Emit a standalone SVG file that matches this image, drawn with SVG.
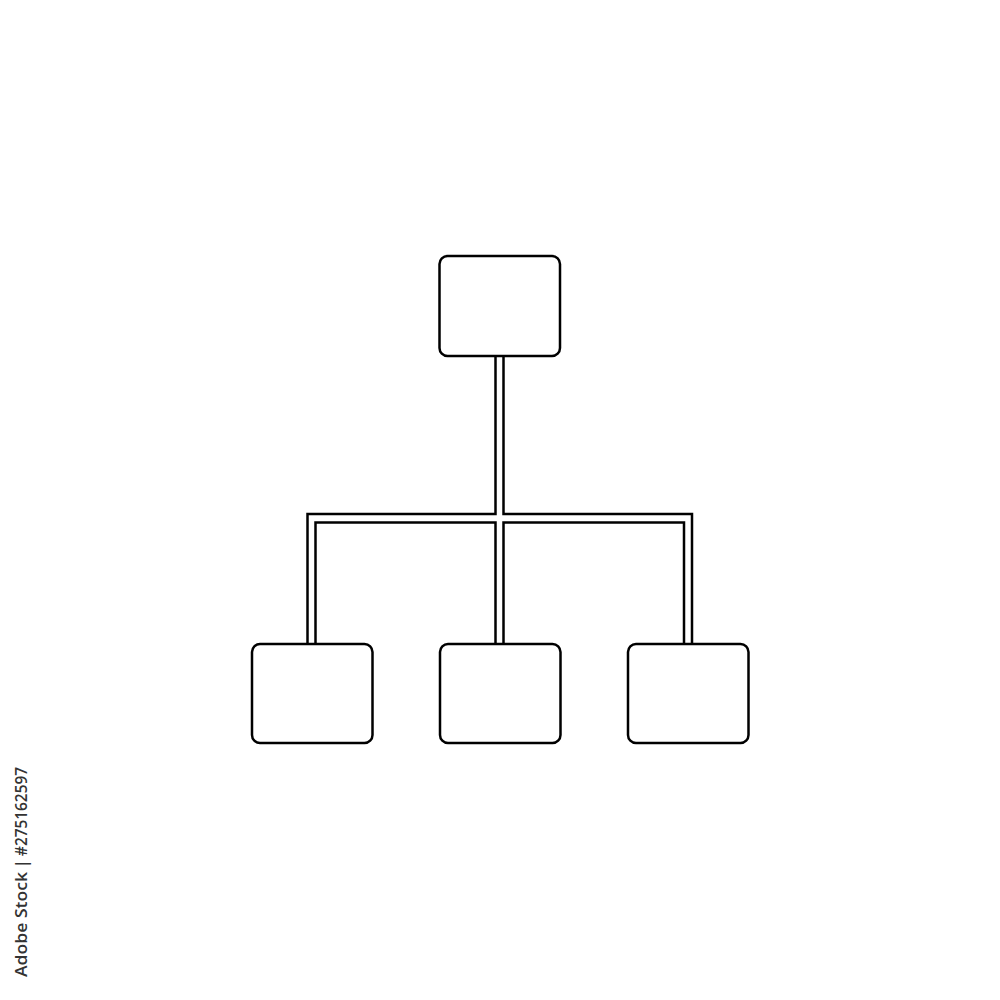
<svg xmlns="http://www.w3.org/2000/svg" width="1000" height="1000" viewBox="0 0 1000 1000">
  <style>
    .node { fill: #ffffff; stroke: #000000; stroke-width: 2.5; }
    .conn { fill: none; stroke: #000000; stroke-width: 2.5; stroke-linejoin: miter; }
    .credit { font-family: "Open Sans", "Liberation Sans", sans-serif; font-size: 15.5px; font-weight: 600; fill: #333333; }
  </style>
  <rect width="1000" height="1000" fill="#ffffff"/>
  <g id="connectors">
    <path class="conn" d="M495.5,356 V514 H307.5 V644"/>
    <path class="conn" d="M315.5,644 V522.5 H495.5 V644"/>
    <path class="conn" d="M503.5,644 V522.5 H684 V644"/>
    <path class="conn" d="M692,644 V514 H503.5 V356"/>
  </g>
  <g id="node-root">
    <rect class="node" x="439.5" y="256" width="120.5" height="100" rx="8"/>
  </g>
  <g id="node-left">
    <rect class="node" x="252" y="644" width="120.5" height="99" rx="8"/>
  </g>
  <g id="node-middle">
    <rect class="node" x="440" y="644" width="120.5" height="99" rx="8"/>
  </g>
  <g id="node-right">
    <rect class="node" x="628" y="644" width="120.5" height="99" rx="8"/>
  </g>
  <g id="credit" transform="translate(27,977) rotate(-90)">
    <text class="credit" x="0" y="0" textLength="105" lengthAdjust="spacingAndGlyphs">Adobe Stock</text>
    <text class="credit" x="109" y="0">|</text>
    <text class="credit" x="121" y="0" textLength="89" lengthAdjust="spacingAndGlyphs">#275162597</text>
  </g>
</svg>
